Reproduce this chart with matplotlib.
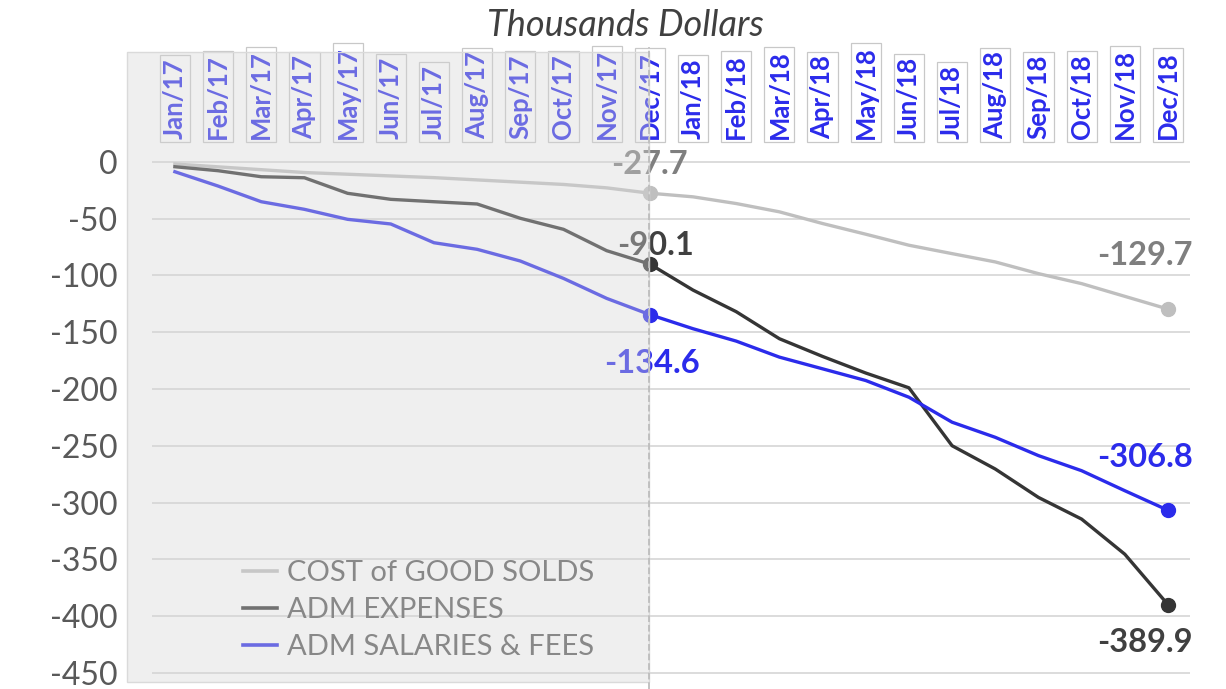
import matplotlib
matplotlib.use("Agg")
import matplotlib.pyplot as plt
from matplotlib.patches import Rectangle
from matplotlib.lines import Line2D

plt.rcParams['font.family'] = ['Lato', 'DejaVu Sans']

months = ['Jan/17', 'Feb/17', 'Mar/17', 'Apr/17', 'May/17', 'Jun/17', 'Jul/17', 'Aug/17',
          'Sep/17', 'Oct/17', 'Nov/17', 'Dec/17',
          'Jan/18', 'Feb/18', 'Mar/18', 'Apr/18', 'May/18', 'Jun/18', 'Jul/18', 'Aug/18',
          'Sep/18', 'Oct/18', 'Nov/18', 'Dec/18']

cogs = [-2.0, -4.5, -7.0, -9.5, -11.0, -12.5, -14.0, -16.0, -18.0, -20.0, -23.0, -27.7,
        -30.9, -36.8, -44.1, -54.4, -63.8, -73.5, -80.9, -88.2, -98.5, -107.3, -118.5, -129.7]
adm_exp = [-4.4, -7.9, -13.2, -14.1, -27.8, -33.1, -35.2, -37.2, -49.8, -59.5, -78.3, -90.1,
           -113.0, -132.0, -155.8, -171.4, -186.0, -199.0, -250.0, -270.5, -295.5, -314.6, -345.5, -389.9]
adm_sal = [-8.8, -21.4, -35.2, -41.9, -50.7, -54.8, -71.3, -77.1, -87.4, -102.7, -120.3, -134.6,
           -147.0, -157.9, -172.0, -182.3, -192.6, -207.3, -229.3, -242.6, -258.7, -272.0, -289.6, -306.8]

names = ['COST of GOOD SOLDS', 'ADM EXPENSES', 'ADM SALARIES & FEES']
yticks = list(range(-450, 1, 50))

W, H = 1226, 689
c_cogs = '#bfbfbf'
c_exp = '#353535'
c_sal = '#2b2beb'

fig = plt.figure(figsize=(W / 100, H / 100), dpi=100)
ax = fig.add_axes([152 / W, 7 / H, (1190 - 152) / W, 630 / H])

x = list(range(len(months)))
ax.plot(x, cogs, color=c_cogs, lw=2.4, label=names[0], zorder=3)
ax.plot(x, adm_exp, color=c_exp, lw=2.4, label=names[1], zorder=3)
ax.plot(x, adm_sal, color=c_sal, lw=2.4, label=names[2], zorder=3)

# markers at Dec/17 and Dec/18
for series, col in [(cogs, c_cogs), (adm_exp, c_exp), (adm_sal, c_sal)]:
    ax.plot([11, 23], [series[11], series[23]], 'o', color=col, ms=10, zorder=4)

ax.set_xlim(-0.53, 23.51)
ax.set_ylim(-458, 96.6)
ax.set_yticks(yticks)
ax.set_yticklabels([str(v) for v in yticks])
ax.set_xticks([])
ax.tick_params(axis='y', length=0, labelsize=23, labelcolor='#595959', pad=25)
for s in ax.spines.values():
    s.set_visible(False)
ax.grid(axis='y', color='#d9d9d9', lw=1.3)
ax.set_axisbelow(True)

# month labels at the top
for i, m in enumerate(months):
    ax.text(i, 20, m, rotation=90, ha='center', va='bottom', fontsize=18.5,
            fontweight='bold', color=c_sal, zorder=5,
            bbox=dict(facecolor='white', edgecolor='#c8c8c8', lw=0.9, pad=2.2))

# value labels
lbl = dict(fontsize=23.5, fontweight='bold', textcoords='offset pixels', zorder=6)
ax.annotate('-27.7', (11, cogs[11]), xytext=(0, 29), ha='center', va='center', color='#7f7f7f', **lbl)
ax.annotate('-90.1', (11, adm_exp[11]), xytext=(6, 19), ha='center', va='center', color='#404040', **lbl)
ax.annotate('-134.6', (11, adm_sal[11]), xytext=(2, -49), ha='center', va='center', color=c_sal, **lbl)
ax.annotate('-129.7', (23, cogs[23]), xytext=(25, 54), ha='right', va='center', color='#7f7f7f', **lbl)
ax.annotate('-306.8', (23, adm_sal[23]), xytext=(25, 53), ha='right', va='center', color=c_sal, **lbl)
ax.annotate('-389.9', (23, adm_exp[23]), xytext=(25, -38), ha='right', va='center', color='#404040', **lbl)

leg = ax.legend(loc='upper left', bbox_to_anchor=(243 / W, 1 - 560 / H),
                bbox_transform=fig.transFigure, frameon=False, fontsize=21,
                handlelength=1.17, handletextpad=0.34, labelspacing=0.38,
                borderpad=0, borderaxespad=0)
for t in leg.get_texts():
    t.set_color('#595959')
for h in leg.get_lines():
    h.set_linewidth(2.6)

# shaded 2017 region over everything
fig.add_artist(Rectangle((127 / W, 1 - 682 / H), (649 - 127) / W, (682 - 52) / H,
                         transform=fig.transFigure, facecolor='#d5d5d5', alpha=0.38,
                         edgecolor='none', zorder=10))
fig.add_artist(Rectangle((127 / W, 1 - 682 / H), (649 - 127) / W, (682 - 52) / H,
                         transform=fig.transFigure, facecolor='none',
                         edgecolor='#dadada', lw=1, zorder=10))
fig.add_artist(Line2D([649 / W, 649 / W], [0, 1 - 47 / H], transform=fig.transFigure,
                      color='#bdbdbd', lw=1.3, ls='--', zorder=11))

fig.text(625 / W, 1 - 26 / H, 'Thousands Dollars', ha='center', va='center',
         fontsize=26, style='italic', color='#404040')

fig.savefig('out.png', dpi=100)
